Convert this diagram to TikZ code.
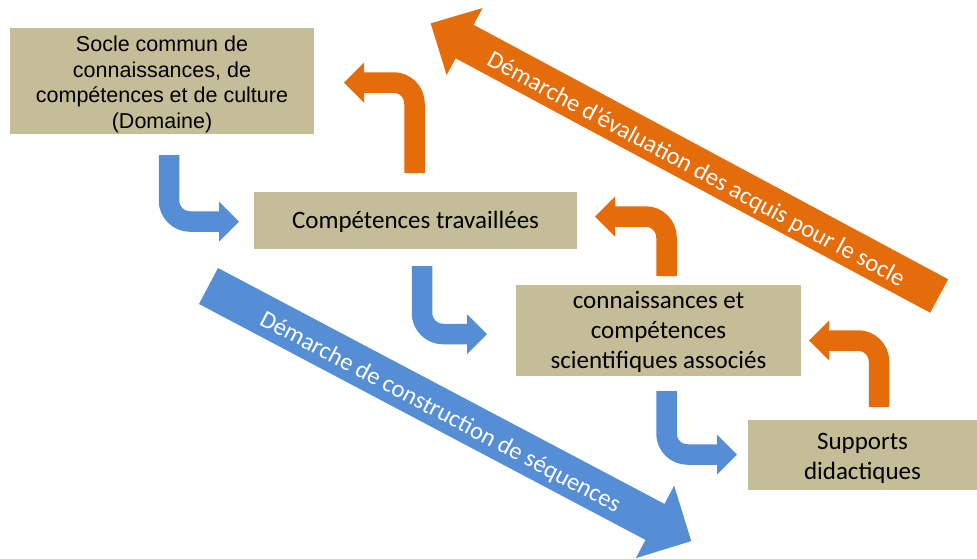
\documentclass[tikz,border=0pt]{standalone}
\usepackage{fontspec}
\usetikzlibrary{calc}
\setmainfont{Carlito}
\newfontfamily\arialfont{Liberation Sans}
\definecolor{boxtan}{HTML}{C4BD97}
\definecolor{arrblue}{HTML}{558ED5}
\definecolor{arrorange}{HTML}{E46C0A}
\tikzset{
  box/.style={fill=boxtan, inner sep=0pt, align=center, text=black,
    font=\fontsize{25}{30}\selectfont},
  bentblue/.style={draw=arrblue, line width=20.5pt, rounded corners=21pt},
  bentorange/.style={draw=arrorange, line width=20.5pt, rounded corners=21pt},
  bigtext/.style={text=white, inner sep=0pt, font=\fontsize{24.5}{29}\selectfont},
}
\begin{document}
\begin{tikzpicture}[x=1pt,y=-1pt]
\useasboundingbox (0,0) rectangle (977,558);

% boxes
\node[box, minimum width=304pt, minimum height=106pt,
      font=\arialfont\fontsize{21.5}{25.5}\selectfont] (socle) at (162,81)
  {\rule{0pt}{22pt}Socle commun de\\connaissances, de\\compétences et de culture\\(Domaine)};
\node[box, minimum width=323pt, minimum height=57pt] (comp) at (415.5,220.5)
  {\rule{0pt}{21pt}Compétences travaillées};
\node[box, minimum width=285pt, minimum height=91pt] (conn) at (658.5,330.5)
  {\rule{0pt}{20pt}connaissances et\\compétences\\scientifiques associés};
\node[box, minimum width=229pt, minimum height=70pt] (supp) at (862.5,455)
  {\rule{0pt}{24pt}Supports\\didactiques};

% big blue arrow
\begin{scope}[shift={(208.5,286)}, rotate=-27.85]
  \fill[arrblue] (0,-20.35) -- (505,-20.35) -- (505,-41) -- (546,0)
    -- (505,41) -- (505,20.35) -- (0,20.35) -- cycle;
\end{scope}
\node[bigtext, rotate=-27.85] (bluelab) at (440.0,412.8)
  {Démarche de construction de séquences};

% big orange arrow
\begin{scope}[shift={(939.15,296)}, rotate=151.8]
  \fill[arrorange] (0,-19) -- (538.5,-19) -- (538.5,-38) -- (577,0)
    -- (538.5,38) -- (538.5,19) -- (0,19) -- cycle;
\end{scope}
\node[bigtext, rotate=-28.2] (orangelab) at (695.8,170.0)
  {Démarche d’évaluation des acquis pour le socle};

% bent blue arrows (down then right)
\coordinate (b1s) at (169,155);   \coordinate (b1t) at (239,221.5);
\coordinate (b2s) at (422,266);   \coordinate (b2t) at (487,334);
\coordinate (b3s) at (666.5,391); \coordinate (b3t) at (737,454.5);
\foreach \s/\t in {b1s/b1t, b2s/b2t, b3s/b3t}{
  \draw[bentblue] (\s) |- ($(\t)+(-19,0)$);
  \fill[arrblue] (\t) -- ++(-20,-20) -- ++(0,40) -- cycle;
}

% bent orange arrows (up then left)
\coordinate (o1s) at (414.5,173); \coordinate (o1t) at (344,82.5);
\coordinate (o2s) at (666.5,276); \coordinate (o2t) at (595,216.5);
\coordinate (o3s) at (879,407);   \coordinate (o3t) at (809,340.5);
\foreach \s/\t in {o1s/o1t, o2s/o2t, o3s/o3t}{
  \draw[bentorange] (\s) |- ($(\t)+(19,0)$);
  \fill[arrorange] (\t) -- ++(20,-20) -- ++(0,40) -- cycle;
}
\end{tikzpicture}
\end{document}
